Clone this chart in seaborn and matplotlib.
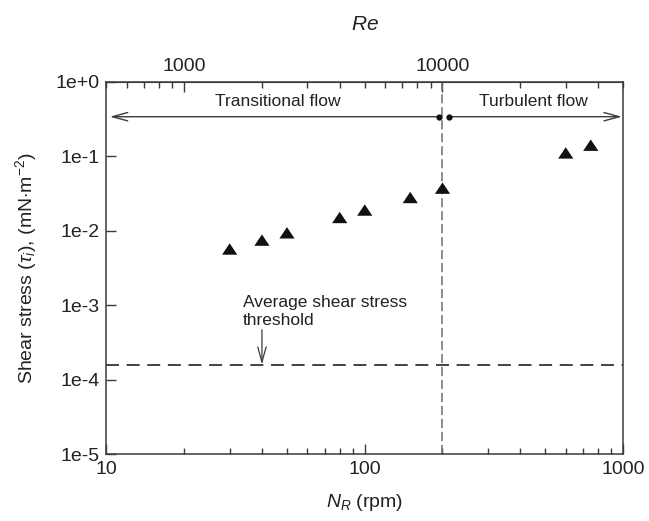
import matplotlib
matplotlib.use("Agg")
import matplotlib.pyplot as plt
import matplotlib.ticker as mticker
import numpy as np
import pandas as pd
import seaborn as sns

# datos
rpm = [30, 40, 50, 80, 100, 150, 200, 600, 750]
tau = [5.7e-3, 7.5e-3, 9.4e-3, 1.51e-2, 1.9e-2, 2.8e-2, 3.74e-2, 0.111, 0.141]
threshold = 1.6e-4
re_per_rpm = 50          # Re = 50 * N_R
transition_rpm = 200
arrow_y = 0.34
x_ticks = [10, 100, 1000]
y_ticks = [1e-5, 1e-4, 1e-3, 1e-2, 1e-1, 1e0]
re_ticks = [1000, 10000]

df = pd.DataFrame({"rpm": rpm, "tau": tau})

sns.set_style("ticks")
plt.rcParams["font.family"] = ["Liberation Sans", "DejaVu Sans"]
plt.rcParams["mathtext.fontset"] = "custom"
plt.rcParams["mathtext.rm"] = "Liberation Sans"
plt.rcParams["mathtext.it"] = "Liberation Sans:italic"

ink = "#222222"
edge = "#3a3a3a"

fig = plt.figure(figsize=(6.49, 5.21), dpi=100)
ax = fig.add_axes([0.164, 0.128, 0.796, 0.715])

tri = [(0, 0.75), (-1, -0.75), (1, -0.75)]
sns.scatterplot(x="rpm", y="tau", data=df, ax=ax, marker=tri, s=120,
                color="#111111", edgecolor="none", zorder=5)

ax.set_xscale("log")
ax.set_yscale("log")
ax.set_xlim(10, 1000)
ax.set_ylim(1e-5, 1)

# lineas de referencia
ax.axhline(threshold, color="#111111", lw=1.1, ls=(0, (8.5, 5)))
ax.axvline(transition_rpm, color="#707070", lw=1.1, ls=(0, (6, 2.5)))

# flechas de regimen
arr = dict(arrowstyle="->,head_length=1.1,head_width=0.3", lw=1.0,
           color=edge, shrinkA=0, shrinkB=0, mutation_scale=10)
ax.annotate("", xy=(10.3, arrow_y), xytext=(194, arrow_y), arrowprops=arr)
ax.annotate("", xy=(990, arrow_y), xytext=(211, arrow_y), arrowprops=arr)
ax.plot([194, 211], [arrow_y, arrow_y], "o", ms=3.5, color="#111111",
        ls="none", zorder=6)
ax.text(np.sqrt(10 * 194) * 1.05, 0.43, "Transitional flow", ha="center",
        va="bottom", fontsize=12.5, color=ink)
ax.text(np.sqrt(211 * 990) * 0.98, 0.43, "Turbulent flow", ha="center",
        va="bottom", fontsize=12.5, color=ink)

# umbral
ax.annotate("", xy=(40, threshold), xytext=(40, 4.7e-4),
            arrowprops=dict(arrowstyle="->,head_length=1.1,head_width=0.3",
                            lw=0.9, color=edge, shrinkA=0, shrinkB=0,
                            mutation_scale=10))
ax.text(33.7, 4.9e-4, "Average shear stress\nthreshold", ha="left",
        va="bottom", fontsize=12.5, color=ink, linespacing=1.3)

# ejes
ax.set_xticks(x_ticks)
ax.xaxis.set_major_formatter(mticker.FuncFormatter(lambda v, p: f"{v:g}"))
ax.set_yticks(y_ticks)
ax.yaxis.set_major_formatter(
    mticker.FuncFormatter(lambda v, p: f"1e{int(round(np.log10(v))):+d}"))
ax.yaxis.set_minor_locator(mticker.NullLocator())
ax.tick_params(axis="both", which="major", direction="in", length=7.5,
               width=1, color=edge, labelsize=14, labelcolor=ink, pad=5)
ax.tick_params(axis="x", which="minor", direction="in", length=4.5,
               width=1, color=edge)
for s in ax.spines.values():
    s.set_color(edge)
    s.set_linewidth(1.1)

ax.set_xlabel("$N_R$ (rpm)", fontsize=14, color=ink, labelpad=10)
ax.set_ylabel(r"Shear stress ($\tau_i$), (mN$\cdot$m$^{-2}$)", fontsize=14,
              color=ink, labelpad=12)

top = ax.secondary_xaxis("top", functions=(lambda n: n * re_per_rpm,
                                           lambda r: r / re_per_rpm))
top.set_xticks(re_ticks)
top.xaxis.set_major_formatter(mticker.FuncFormatter(lambda v, p: f"{v:g}"))
top.tick_params(axis="x", which="major", direction="in", length=7.5,
                width=1, color=edge, labelsize=14, labelcolor=ink, pad=5)
top.tick_params(axis="x", which="minor", direction="in", length=4,
                width=1, color=edge)
top.spines["top"].set_color(edge)
top.set_xlabel("$Re$", fontsize=15, color=ink, labelpad=20)

plt.savefig("out.png", dpi=100)
